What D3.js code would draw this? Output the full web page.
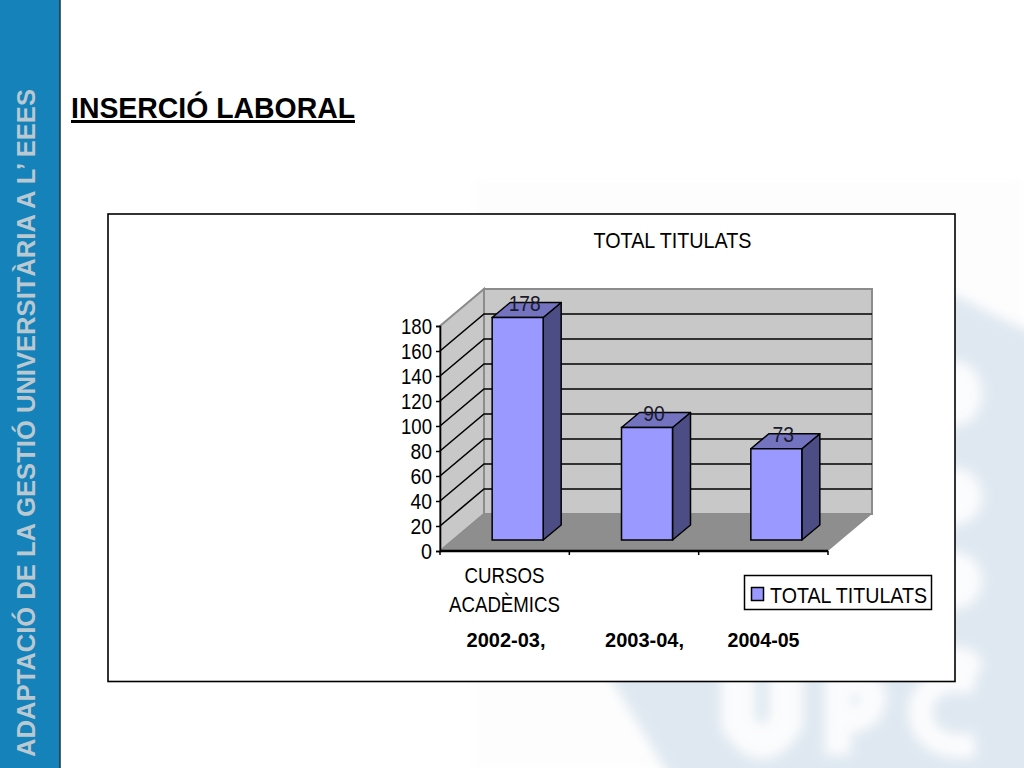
<!DOCTYPE html>
<html><head><meta charset="utf-8">
<script src="https://cdn.jsdelivr.net/npm/d3@7"></script>
<style>html,body{margin:0;padding:0;background:#fff}svg{display:block}text{font-family:"Liberation Sans",Arial,sans-serif}</style>
</head><body><svg id="c" width="1024" height="768"></svg>
<script>
const categories=["2002-03,","2003-04,","2004-05"];
const values=[178,90,73];
const tickValues=[0,20,40,60,80,100,120,140,160,180];
const titleText="INSERCIÓ LABORAL";
const sideText="ADAPTACIÓ DE LA GESTIÓ UNIVERSITÀRIA A L’ EEES";
const chartTitle="TOTAL TITULATS";
const axisTitle=["CURSOS","ACADÈMICS"];

const svg=d3.select("#c");
const defs=svg.append("defs");
const addBlur=(id,s)=>defs.append("filter").attr("id",id).attr("filterUnits","userSpaceOnUse").attr("x",-100).attr("y",-100).attr("width",1300).attr("height",1000)
  .append("feGaussianBlur").attr("stdDeviation",s);
addBlur("blur",6);addBlur("blur2",10);
// faded watermark
svg.append("rect").attr("x",472).attr("y",180).attr("width",552).attr("height",588).attr("fill","#fdfdfd").attr("filter","url(#blur)");
const wm=svg.append("g").attr("filter","url(#blur)");
wm.append("path").attr("d","M600 660 L678 790 L1060 790 L1060 345 L1000 318 L957 296 L940 296 L940 660 Z").attr("fill","#dfe8f1");
const soft="#fbfcfd";
[[361,426],[468,525],[552,609],[647,681]].forEach(([a,b])=>{
  wm.append("ellipse").attr("cx",955).attr("cy",(a+b)/2).attr("rx",27).attr("ry",(b-a)/2).attr("fill",soft);
});
wm.append("path").attr("d","M738 660 L738 722 Q762 762 786 722 L786 660").attr("fill","none").attr("stroke",soft).attr("stroke-width",34);
wm.append("path").attr("d","M838 755 L838 672 M838 680 Q880 680 872 705 Q866 722 838 720").attr("fill","none").attr("stroke",soft).attr("stroke-width",26);
wm.append("path").attr("d","M975 682 Q925 672 920 712 Q925 752 975 745").attr("fill","none").attr("stroke",soft).attr("stroke-width",24);

// side band
svg.append("rect").attr("x",-2).attr("y",-2).attr("width",62).attr("height",772).attr("fill","#1582ba").attr("stroke","#1d3440").attr("stroke-width",1.5);
svg.append("text").attr("transform","translate(35,757) rotate(-90)").attr("font-size",25.5).attr("font-weight","bold").attr("fill","#b9c8d1").attr("textLength",668).attr("lengthAdjust","spacingAndGlyphs").text(sideText);

// heading
svg.append("text").attr("x",71).attr("y",118).attr("font-size",29).attr("font-weight","bold").attr("fill","#000").attr("textLength",284).attr("lengthAdjust","spacingAndGlyphs").text(titleText);
svg.append("rect").attr("x",71).attr("y",120).attr("width",284).attr("height",3).attr("fill","#000");

// chart frame
svg.append("rect").attr("x",108).attr("y",214).attr("width",847).attr("height",467.5).attr("fill","#fff").attr("stroke","#000").attr("stroke-width",1.6);

const x=d3.scaleBand().domain(categories).range([440,828]);
const y=d3.scaleLinear().domain([0,180]).range([551,326]);
const depth={dx:44,dy:-37}, barD={dx:18,dy:-15}, gap={dx:13,dy:-11};
const barW=51;
const line=d3.line();
const x0=x.range()[0],x1=x.range()[1];
const g=svg.append("g");
g.append("path").attr("d",line([[x0+depth.dx,y(180)+depth.dy],[x1+depth.dx,y(180)+depth.dy],[x1+depth.dx,y(0)+depth.dy],[x0+depth.dx,y(0)+depth.dy]])+"Z").attr("fill","#c8c8c8").attr("stroke","#8c8c8c").attr("stroke-width",2);
g.append("path").attr("d",line([[x0,y(0)],[x0+depth.dx,y(0)+depth.dy],[x0+depth.dx,y(180)+depth.dy],[x0,y(180)]])+"Z").attr("fill","#c8c8c8").attr("stroke","#8c8c8c").attr("stroke-width",2);
g.append("path").attr("d",line([[x0,y(0)],[x1,y(0)],[x1+depth.dx,y(0)+depth.dy],[x0+depth.dx,y(0)+depth.dy]])+"Z").attr("fill","#8e8e8e").attr("stroke","none");
tickValues.filter(d=>d>0&&d<180).forEach(d=>{
  g.append("path").attr("d",line([[x0,y(d)],[x0+depth.dx,y(d)+depth.dy],[x1+depth.dx,y(d)+depth.dy]])).attr("fill","none").attr("stroke","#000").attr("stroke-width",1.6);
});
// axes
const yAxis=d3.axisLeft(y).tickValues(tickValues).tickSize(4).tickPadding(4);
const ya=svg.append("g").attr("transform",`translate(${x0},0)`).call(yAxis);
ya.select(".domain").attr("stroke","#000").attr("stroke-width",1.6);
ya.selectAll("line").attr("stroke","#000").attr("stroke-width",1.5);
ya.selectAll("text").attr("font-size",22).attr("fill","#000").attr("font-family",'"Liberation Sans"').attr("textLength",function(d){return d>=100?31:d>0?21.5:11;}).attr("lengthAdjust","spacingAndGlyphs");
const tickPos=[...categories.map(c=>x(c)),x1];
svg.append("path").attr("d",line([[x0,y(0)],[x1,y(0)]])).attr("stroke","#000").attr("stroke-width",2.4);
svg.selectAll(".xt").data(tickPos).join("line").attr("class","xt").attr("x1",d=>d).attr("x2",d=>d).attr("y1",y(0)).attr("y2",y(0)+4).attr("stroke","#000").attr("stroke-width",1.5);

// bars
const bars=svg.selectAll(".bar").data(values).join("g").attr("class","bar");
const fx=(d,i)=>x(categories[i])+x.bandwidth()/2+gap.dx-barW/2;
const by=y(0)+gap.dy;
const h=d=>y(0)-y(d);
bars.append("path").attr("d",(d,i)=>{const l=fx(d,i),r=l+barW,t=by-h(d);
  return line([[r,by],[r+barD.dx,by+barD.dy],[r+barD.dx,t+barD.dy],[r,t]])+"Z";}).attr("fill","#4d4d85").attr("stroke","#000").attr("stroke-width",1.5).attr("stroke-linejoin","round");
bars.append("path").attr("d",(d,i)=>{const l=fx(d,i),r=l+barW,t=by-h(d);
  return line([[l,t],[r,t],[r+barD.dx,t+barD.dy],[l+barD.dx,t+barD.dy]])+"Z";}).attr("fill","#7373c0").attr("stroke","#000").attr("stroke-width",1.5).attr("stroke-linejoin","round");
bars.append("rect").attr("x",fx).attr("y",d=>by-h(d)).attr("width",barW).attr("height",h).attr("fill","#9999ff").attr("stroke","#000").attr("stroke-width",1.5);
bars.append("text").attr("x",(d,i)=>fx(d,i)+barW/2+7).attr("y",d=>by-h(d)-7).attr("text-anchor","middle").attr("font-size",22).attr("textLength",d=>d>=100?32:21.5).attr("lengthAdjust","spacingAndGlyphs").attr("fill","#1a1a2e").text(d=>d);

// chart texts
svg.append("text").attr("x",672.5).attr("y",247.5).attr("text-anchor","middle").attr("font-size",22.5).attr("textLength",158).attr("lengthAdjust","spacingAndGlyphs").text(chartTitle);
svg.selectAll(".at").data(axisTitle).join("text").attr("class","at").attr("x",504.5).attr("y",(d,i)=>582.5+i*29).attr("text-anchor","middle").attr("font-size",22.5).attr("textLength",(d,i)=>i?111:80).attr("lengthAdjust","spacingAndGlyphs").text(d=>d);
const catX=[506,644.5,763.5];
svg.selectAll(".cat").data(categories).join("text").attr("class","cat").attr("x",(d,i)=>catX[i]).attr("y",647).attr("text-anchor","middle").attr("font-size",21).attr("font-weight","bold").attr("textLength",(d,i)=>i<2?79:72).attr("lengthAdjust","spacingAndGlyphs").text(d=>d);

// legend
svg.append("rect").attr("x",744.5).attr("y",575.5).attr("width",187).attr("height",34).attr("fill","#fff").attr("stroke","#000").attr("stroke-width",1.5);
svg.append("rect").attr("x",751.5).attr("y",587.5).attr("width",12).attr("height",13).attr("fill","#9999ff").attr("stroke","#000").attr("stroke-width",1.5);
svg.append("text").attr("x",770).attr("y",603).attr("font-size",22.5).attr("textLength",157).attr("lengthAdjust","spacingAndGlyphs").text(chartTitle);
</script></body></html>
